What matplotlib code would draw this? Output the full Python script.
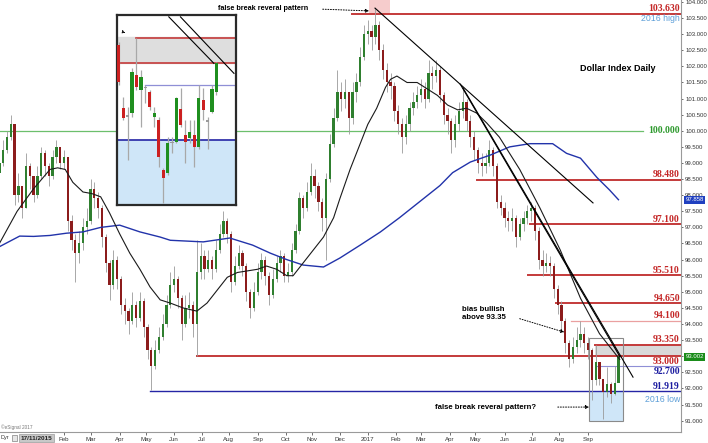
import numpy as np
import pandas as pd
import matplotlib
matplotlib.use('Agg')
import matplotlib.pyplot as plt
from matplotlib.patches import Rectangle

# ---------------------------------------------------------------
# main chart : one candle every 3 trading days, day 0 = 17/11/2015
first_day = 3
step = 3
first_open = 98.7

close = [99.0, 99.4, 99.8, 100.2, 98.0, 98.3, 97.6, 98.9, 98.6, 98.0,
         98.6, 99.3, 98.9, 98.6, 99.2, 99.5, 99.0, 99.2, 97.2, 96.6,
         96.2, 96.5, 97.0, 97.2, 98.2, 97.9, 97.6, 96.7, 95.9, 95.2,
         96.0, 95.4, 94.6, 94.4, 94.1, 94.6, 94.2, 94.7, 93.9, 93.2,
         92.7, 93.2, 93.6, 94.0, 94.6, 95.2, 95.4, 94.8, 94.0, 94.5,
         94.6, 94.0, 95.6, 96.1, 95.7, 96.0, 95.7, 96.3, 96.8, 97.2,
         96.8, 95.3, 95.8, 96.2, 95.8, 95.0, 94.5, 95.0, 95.6, 96.0,
         95.5, 94.9, 95.4, 95.9, 96.1, 95.5, 95.6, 96.3, 96.9, 97.9,
         97.6, 98.1, 98.6, 98.3, 97.8, 97.3, 98.5, 99.6, 100.4, 101.2,
         101.0, 101.2, 100.4, 101.2, 101.5, 102.3, 103.0, 103.1, 102.9, 103.3,
         102.5, 101.9, 101.5, 101.4, 100.6, 100.2, 99.8, 100.2, 100.7, 100.9,
         101.1, 101.3, 101.0, 101.8, 101.7, 101.9, 101.1, 100.5, 100.3, 99.7,
         100.2, 100.6, 100.9, 100.3, 99.8, 99.4, 99.0, 98.9, 99.0, 99.4,
         98.9, 97.8, 97.6, 97.3, 97.2, 97.3, 96.7, 97.1, 97.3, 97.5,
         97.6, 96.9, 96.0, 95.8, 95.9, 95.8, 95.1, 94.6, 94.1, 93.4,
         92.9, 93.3, 93.5, 93.7, 93.4, 93.2, 92.25, 92.81, 92.30, 91.88,
         92.14, 91.83, 92.18, 93.00]
high = [99.4, 99.7, 100.0, 100.5, 100.1, 98.7, 98.3, 99.3, 99.0, 98.6,
        98.9, 99.5, 99.4, 99.0, 99.4, 99.7, 99.5, 99.4, 99.1, 97.4,
        96.8, 96.9, 97.3, 97.6, 98.5, 98.4, 98.1, 97.7, 96.8, 96.0,
        96.3, 96.1, 95.5, 94.8, 94.5, 95.0, 94.7, 95.0, 94.8, 94.0,
        93.3, 93.5, 93.9, 94.3, 94.9, 95.6, 95.8, 95.5, 94.9, 94.9,
        95.0, 94.7, 96.6, 96.5, 96.3, 96.3, 96.1, 96.6, 97.1, 97.5,
        97.3, 96.9, 96.1, 96.45, 96.3, 95.9, 95.1, 95.3, 95.9, 96.2,
        96.1, 95.6, 95.7, 96.1, 96.3, 96.2, 95.9, 96.5, 97.1, 98.1,
        98.0, 98.4, 99.0, 98.8, 98.4, 97.9, 98.7, 99.9, 100.7, 101.9,
        101.5, 101.6, 101.1, 101.5, 101.8, 102.6, 103.3, 103.45, 103.3, 103.8,
        103.4, 102.7, 102.1, 101.8, 101.5, 100.8, 100.4, 100.5, 100.9, 101.2,
        101.4, 101.6, 101.5, 102.2, 102.0, 102.2, 102.0, 101.2, 100.7, 100.4,
        100.5, 100.9, 101.3, 101.0, 100.5, 100.0, 99.5, 99.3, 99.3, 99.7,
        99.5, 99.0, 98.0, 97.8, 97.5, 97.6, 97.4, 97.3, 97.5, 97.7,
        97.8, 97.7, 97.0, 96.3, 96.2, 96.1, 95.9, 95.2, 94.7, 94.2,
        93.5, 93.6, 93.9, 94.1, 93.9, 93.6, 93.26, 93.35, 92.70, 92.25,
        92.66, 92.21, 92.70, 93.02]
low = [98.6, 98.9, 99.3, 99.7, 97.7, 97.8, 97.3, 97.6, 98.2, 97.8,
       97.9, 98.5, 98.6, 98.3, 98.5, 99.0, 98.8, 98.8, 96.9, 96.3,
       95.3, 95.9, 96.3, 96.8, 97.1, 97.6, 97.3, 96.4, 95.6, 94.75,
       95.1, 95.1, 94.3, 94.0, 93.7, 94.0, 93.9, 94.1, 93.6, 92.9,
       91.95, 92.6, 93.1, 93.5, 93.9, 94.5, 95.0, 94.5, 93.5, 93.9,
       94.2, 93.6, 93.0, 95.4, 95.4, 95.6, 95.4, 95.6, 96.2, 96.7,
       96.5, 95.0, 95.2, 95.7, 95.5, 94.7, 94.2, 94.4, 94.9, 95.4,
       95.2, 94.6, 94.8, 95.3, 95.6, 95.3, 95.3, 95.5, 96.2, 96.8,
       97.3, 97.5, 98.0, 97.9, 97.5, 96.9, 96.0, 98.4, 99.5, 100.3,
       100.6, 100.7, 99.9, 100.2, 100.9, 101.4, 102.2, 102.7, 102.5, 102.7,
       102.2, 101.6, 101.2, 101.0, 100.3, 99.9, 99.3, 99.6, 100.0, 100.5,
       100.7, 100.9, 100.7, 100.9, 101.3, 101.5, 100.9, 100.2, 99.9, 99.3,
       99.5, 100.0, 100.4, 100.0, 99.5, 99.1, 98.7, 98.6, 98.7, 98.9,
       98.6, 97.6, 97.4, 97.0, 96.9, 96.9, 96.4, 96.6, 96.9, 97.1,
       97.2, 96.6, 95.7, 95.5, 95.6, 95.5, 94.8, 94.3, 93.8, 93.1,
       92.65, 92.8, 93.1, 93.3, 93.1, 92.9, 91.64, 92.11, 92.11, 91.04,
       91.74, 91.55, 91.79, 92.30]

# moving averages (trading day index, value)
ma_black_day = [3, 17, 30, 43, 49, 55, 61, 69, 76, 83, 90, 98, 106, 114, 122,
                130, 138, 148, 159, 167, 175, 183, 191, 199, 207, 214, 222,
                230, 235, 243, 251, 259, 267, 272, 280, 288, 294, 301, 308,
                312, 317, 325, 333, 341, 349, 357, 365, 372, 380, 388, 398,
                414, 430, 446, 462, 477, 493]
ma_black = [96.5, 97.5, 98.2, 98.8, 98.85, 98.8, 98.4, 98.1, 98.05, 97.95,
            97.45, 96.8, 96.2, 95.7, 95.15, 94.75, 94.65, 94.5, 94.4, 94.65,
            95.05, 95.45, 95.6, 95.65, 95.7, 95.8, 95.7, 95.5, 95.5, 95.9,
            96.3, 96.7, 97.3, 97.9, 98.8, 99.6, 100.2, 100.7, 101.35, 101.6,
            101.7, 101.5, 101.5, 101.3, 101.1, 100.8, 100.65, 100.7, 100.55,
            100.24, 99.8, 98.8, 97.6, 96.3, 94.8, 93.7, 92.9]
ma_blue_day = [3, 19, 30, 43, 56, 69, 83, 98, 114, 130, 138, 164, 185, 203,
               217, 230, 243, 259, 272, 288, 304, 319, 335, 351, 361, 375,
               391, 406, 422, 440, 451, 462, 475, 485, 492]
ma_blue = [96.4, 96.73, 96.72, 96.75, 96.82, 96.86, 97.0, 97.07, 96.86, 96.7,
           96.6, 96.55, 96.67, 96.45, 96.2, 96.0, 95.83, 95.77, 96.05, 96.45,
           96.86, 97.3, 97.8, 98.3, 98.7, 99.03, 99.25, 99.5, 99.6, 99.6,
           99.3, 99.15, 98.55, 98.16, 97.86]

# horizontal levels
levels = [103.63, 100.0, 98.48, 97.1, 95.51, 94.65, 94.1, 93.35, 93.0, 92.7, 91.919]
level_from = [281.5, 3.5, 380.3, 422.1, 420.5, 442.7, 454.5, 473.5, 159.1, 475.1, 122.0]
level_names = ['103.630', '100.000', '98.480', '97.100', '95.510', '94.650',
               '94.100', '93.350', '93.000', '92.700', '91.919']
level_place = ['above', 'mid', 'above', 'above', 'above', 'above',
               'above', 'above', 'below', 'below', 'above']

# trend lines (day, value)
trend_lines = [([299.7, 471.9], [103.81, 97.76]),
               ([369.2, 503.5], [101.33, 92.35]),
               ([367.0, 493.2], [101.45, 92.98])]

months = ['Feb', 'Mar', 'Apr', 'May', 'Jun', 'Jul', 'Aug', 'Sep', 'Oct', 'Nov', 'Dec',
          '2017', 'Feb', 'Mar', 'Apr', 'May', 'Jun', 'Jul', 'Aug', 'Sep']

# inset : last 23 daily candles
in_open = [93.26, 92.37, 92.25, 92.30, 92.84, 92.63, 92.65, 92.60, 92.25, 92.21,
           91.50, 91.46, 91.88, 91.90, 92.36, 92.00, 91.95, 92.00, 91.83, 92.49,
           92.18, 92.32, 92.60]
in_high = [93.30, 92.53, 92.39, 92.93, 93.35, 92.91, 92.70, 92.63, 92.39, 92.25,
           91.53, 91.97, 91.97, 92.53, 92.66, 92.21, 92.21, 92.21, 92.70, 92.65,
           92.25, 92.70, 93.02]
in_low = [92.70, 92.21, 91.64, 92.25, 92.63, 92.11, 92.44, 92.35, 92.11, 91.55,
          91.04, 91.43, 91.74, 91.88, 92.11, 91.60, 91.88, 91.55, 91.79, 92.21,
          91.79, 92.30, 92.56]
in_close = [92.74, 92.23, 92.25, 92.88, 92.67, 92.81, 92.65, 92.39, 92.30, 91.69,
            91.39, 91.88, 91.88, 92.51, 92.14, 91.90, 92.04, 91.83, 92.51, 92.35,
            92.18, 92.64, 93.00]

# ---------------------------------------------------------------
fig = plt.figure(figsize=(7.08, 4.43), dpi=100)
ax = fig.add_axes([0, 11 / 443, 681 / 708, 432 / 443])
ax.set_xlim(3.48, 541.4)
ax.set_ylim(90.646, 104.062)

red = '#c43a3a'
txt_red = '#c42626'
sans = 'Liberation Sans'
serif = 'Liberation Serif'

# zones
ax.add_patch(Rectangle((295, 103.66), 16.5, 0.5, facecolor='#f6cccc', edgecolor='none', zorder=1))
ax.add_patch(Rectangle((473.5, 93.0), 541.4 - 473.5, 0.35, facecolor='#d9d9d9', edgecolor='none', zorder=1))
ax.add_patch(Rectangle((468.7, 91.0), 26.9, 0.919, facecolor='#cfe6f8', edgecolor='none', zorder=1))
ax.add_patch(Rectangle((468.7, 91.0), 26.9, 2.565, facecolor='none', edgecolor='#8a8a8a', lw=0.8, zorder=5))

# levels
for lv, x0, name, place in zip(levels, level_from, level_names, level_place):
    if name == '100.000':
        ax.plot([x0, 511.4], [lv, lv], color='#6cbf6c', lw=0.9, zorder=2)
        ax.text(540.6, lv, name, color='#2e9a2e', fontsize=7, fontweight='bold',
                family=serif, ha='right', va='center', zorder=6)
        continue
    if name == '94.100':
        col, lw, tc = '#eaa0a0', 0.9, txt_red
    elif name == '92.700':
        col, lw, tc = '#8f8fd6', 0.8, '#1c1ca0'
    elif name == '91.919':
        col, lw, tc = '#2525a5', 1.0, '#1c1ca0'
    else:
        col, lw, tc = red, 1.4, txt_red
    ax.plot([x0, 541.4], [lv, lv], color=col, lw=lw, zorder=2)
    if place == 'above':
        ax.text(540.6, lv + 0.015, name, color=tc, fontsize=7, fontweight='bold',
                family=serif, ha='right', va='bottom', zorder=6)
    else:
        ax.text(540.6, lv - 0.03, name, color=tc, fontsize=7, fontweight='bold',
                family=serif, ha='right', va='top', zorder=6)

ax.text(540.6, 103.49, '2016 high', color='#5d9fd8', fontsize=6.3, family=sans,
        ha='right', va='center', zorder=6)
ax.text(540.6, 91.64, '2016 low', color='#5d9fd8', fontsize=6.3, family=sans,
        ha='right', va='center', zorder=6)

# candles
days = first_day + step * np.arange(len(close))
opens = [first_open] + close[:-1]
ax.vlines(days, low, high, color='#9a9a9a', lw=0.6, zorder=3)
for d, o, c in zip(days, opens, close):
    col = '#2f7f2f' if c >= o else '#8c1c1c'
    ax.bar(d, max(abs(c - o), 0.04), 1.8, bottom=min(o, c), color=col, lw=0, zorder=4)

# moving averages and trend lines
ax.plot(ma_blue_day, ma_blue, color='#2233aa', lw=1.0, zorder=5)
ax.plot(ma_black_day, ma_black, color='#1a1a1a', lw=0.8, zorder=5)
for xs, ys in trend_lines:
    ax.plot(xs, ys, color='black', lw=0.8, zorder=5)

# annotations
ax.text(246.8, 103.8, 'false break reveral pattern', fontsize=5.2, fontweight='bold',
        family=sans, ha='right', va='center')
ax.annotate('', xy=(297.3, 103.72), xytext=(256.2, 103.78),
            arrowprops=dict(arrowstyle='-|>', linestyle=':', lw=0.7, color='black',
                            mutation_scale=5))
ax.text(491.6, 101.92, 'Dollar Index Daily', fontsize=6.5, fontweight='bold',
        family=sans, ha='center', va='center')
ax.text(368.4, 94.33, 'bias bullish\nabove 93.35', fontsize=5.6, fontweight='bold',
        family=sans, ha='left', va='center', linespacing=1.2)
ax.annotate('', xy=(451.4, 93.72), xytext=(411.9, 94.19),
            arrowprops=dict(arrowstyle='-|>', linestyle=':', lw=0.7, color='black',
                            mutation_scale=5))
ax.text(347.1, 91.42, 'false break reveral pattern?', fontsize=5.6, fontweight='bold',
        family=sans, ha='left', va='center')
ax.annotate('', xy=(471.1, 91.42), xytext=(441.9, 91.42),
            arrowprops=dict(arrowstyle='-|>', linestyle=':', lw=0.7, color='black',
                            mutation_scale=5))
ax.text(4, 90.7, '\u00a9eSignal 2017', fontsize=3.4, color='#777777', family=sans,
        ha='left', va='bottom')

# axes
yt = np.arange(91.0, 104.01, 0.5)
ax.set_yticks(yt)
ax.set_yticklabels(['%.3f' % v for v in yt], family=sans)
ax.yaxis.tick_right()
ax.tick_params(axis='y', labelsize=4.3, length=1.5, pad=1.5, colors='#333333', width=0.5)

bdays = pd.bdate_range('2015-11-17', periods=560)
starts = [i for i in range(1, len(bdays)) if bdays[i].month != bdays[i - 1].month]
starts = [i for i in starts if bdays[i] >= pd.Timestamp('2016-02-01')][:len(months)]
ax.set_xticks(starts)
ax.set_xticklabels(months, family=sans)
ax.tick_params(axis='x', labelsize=4.4, length=2, pad=1.5, colors='#333333', width=0.5)
for s in ['top', 'left']:
    ax.spines[s].set_visible(False)
for s in ['right', 'bottom']:
    ax.spines[s].set_color('#9a9a9a')
    ax.spines[s].set_linewidth(0.8)

# price tags on the right axis
fig.text(694.5 / 708, (443 - 200) / 443, '97.858', fontsize=4.3, color='white', ha='center',
         va='center', family=sans, zorder=10,
         bbox=dict(boxstyle='square,pad=0.2', fc='#2040c0', ec='none'))
fig.text(694.5 / 708, (443 - 357) / 443, '93.002', fontsize=4.3, color='white', ha='center',
         va='center', family=sans, zorder=10,
         bbox=dict(boxstyle='square,pad=0.2', fc='#1a8c1a', ec='none'))

# bottom left bits
fig.text(0.5 / 708, (443 - 438) / 443, 'Dyr', fontsize=4.0, color='#333333', va='center',
         family=sans)
fig.patches.append(Rectangle((12 / 708, (443 - 441) / 443), 5 / 708, 6 / 443,
                             transform=fig.transFigure, facecolor='#e6e6e6',
                             edgecolor='#666666', lw=0.4))
fig.text(36.5 / 708, (443 - 438) / 443, '17/11/2015', fontsize=4.6, fontweight='bold',
         color='#222222', ha='center', va='center', family=sans,
         bbox=dict(boxstyle='square,pad=0.2', fc='#c8c8c8', ec='#888888', lw=0.4))

# ---------------------------------------------------------------
# inset
axi = fig.add_axes([117 / 708, (443 - 205) / 443, 119 / 708, 190 / 443])
axi.set_xlim(0.62, 27.4)
axi.set_ylim(91.01, 93.68)
axi.axhspan(93.0, 93.37, color='#dedede', zorder=1)
axi.axhspan(90.0, 91.919, color='#cfe6f8', zorder=1)
axi.plot([4.8, 27.4], [93.35, 93.35], color=red, lw=1.2, zorder=2)
axi.plot([0.62, 27.4], [93.0, 93.0], color=red, lw=1.2, zorder=2)
axi.plot([7.0, 27.4], [92.7, 92.7], color='#8f8fd6', lw=0.9, zorder=2)
axi.plot([0.62, 27.4], [91.919, 91.919], color='#2525a5', lw=1.2, zorder=2)
axi.plot([12.28, 22.43], [93.654, 93.0], color='black', lw=0.8, zorder=5)
axi.plot([14.9, 26.94], [93.654, 92.86], color='black', lw=0.8, zorder=5)

ix = np.arange(1, len(in_close) + 1)
axi.vlines(ix, in_low, in_high, color='#a8a8a8', lw=0.9, zorder=3)
for d, o, c in zip(ix, in_open, in_close):
    if abs(c - o) < 0.03:
        col = '#9a9a9a'
    elif c > o:
        col = '#1f8f1f'
    else:
        col = '#cc2020'
    axi.bar(d, max(abs(c - o), 0.02), 0.72, bottom=min(o, c), color=col, lw=0, zorder=4)
axi.annotate('', xy=(2.5, 93.43), xytext=(1.5, 93.45),
             arrowprops=dict(arrowstyle='-|>', linestyle=':', lw=0.6, color='black',
                             mutation_scale=4))
axi.set_xticks([])
axi.set_yticks([])
for s in axi.spines.values():
    s.set_color('#2a2a2a')
    s.set_linewidth(1.6)

fig.savefig('out.png', dpi=100)
